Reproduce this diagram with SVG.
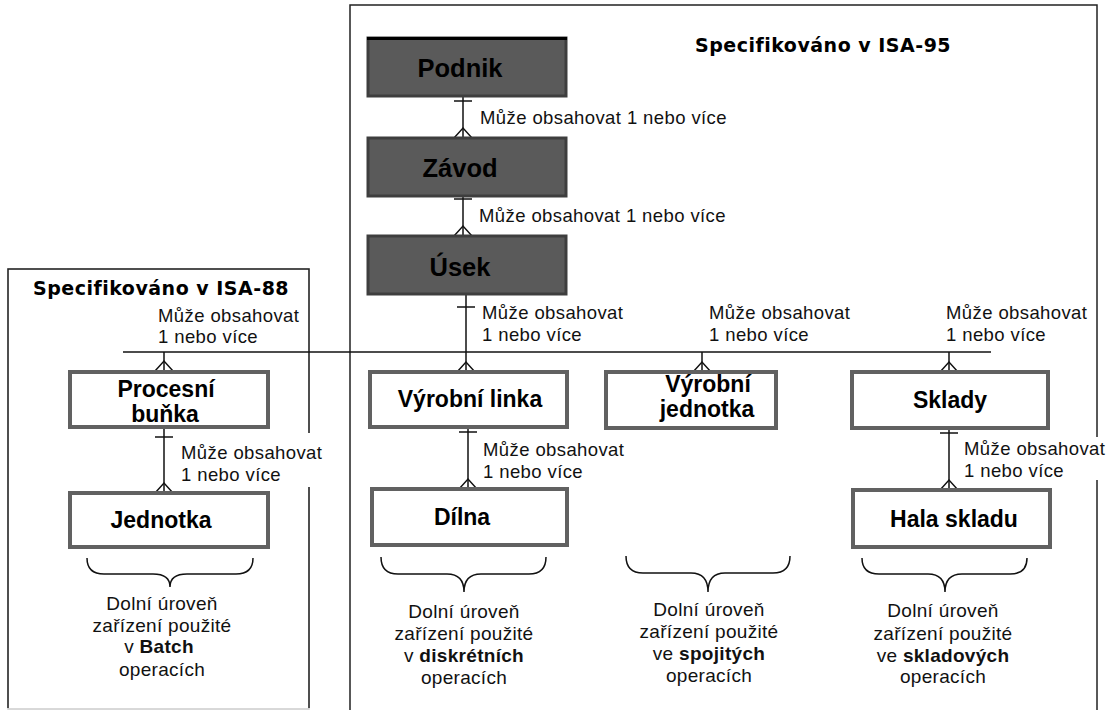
<svg xmlns="http://www.w3.org/2000/svg" xmlns:xlink="http://www.w3.org/1999/xlink" width="1114" height="710" viewBox="0 0 1114 710">
<style>
.frame{fill:none;stroke:#222;stroke-width:1.5}
.dark{fill:#5a5a5a;stroke:#3e3e3e;stroke-width:3}
.light{fill:#fff;stroke:#616161;stroke-width:4}
.name{font-family:"Liberation Sans",Arial,sans-serif;font-weight:bold;font-size:23px;fill:#000;text-anchor:middle}
.big{font-size:25.5px}
.title{font-family:"DejaVu Sans",Verdana,sans-serif;font-weight:bold;font-size:19px;letter-spacing:0.5px;fill:#000}
.lbl{font-family:"Liberation Sans",Arial,sans-serif;font-size:18.5px;letter-spacing:0.4px;fill:#111}
.note{font-family:"Liberation Sans",Arial,sans-serif;font-size:19px;letter-spacing:0.3px;fill:#111;text-anchor:middle}
.line{fill:none;stroke:#111;stroke-width:1.5}
.brace{fill:none;stroke:#111;stroke-width:1.5}
.bg{fill:#fff}
</style>
<defs>
<path id="crow" d="M-9 0 L0 -10 L9 0" class="line"/>
<path id="bar" d="M-9 0 H9" class="line"/>
</defs>
<rect width="1114" height="710" fill="#fff"/>
<g id="frames">
<rect class="frame" x="350" y="5" width="747" height="720"/>
<rect x="8" y="269" width="301" height="440" fill="none" stroke="#ccc" stroke-width="1.5"/>
<path class="frame" d="M8 708 V269 H309 V708"/>
<text class="title" x="695" y="52">Specifikováno v ISA-95</text>
<text class="title" x="33" y="295">Specifikováno v ISA-88</text>
</g>
<g id="label-backgrounds">
<rect class="bg" x="177" y="433" width="152" height="54"/>
<rect class="bg" x="960" y="437" width="150" height="43"/>
</g>
<g id="connectors">
<path class="line" d="M463 96 V138"/>
<use xlink:href="#bar" x="463" y="101"/>
<use xlink:href="#crow" x="463" y="138"/>
<path class="line" d="M463 196 V236"/>
<use xlink:href="#bar" x="463" y="199"/>
<use xlink:href="#crow" x="463" y="236"/>
<path class="line" d="M123 352 H991"/>
<path class="line" d="M466 294 V372"/>
<use xlink:href="#bar" x="466" y="307"/>
<use xlink:href="#crow" x="466" y="372"/>
<path class="line" d="M164 352 V371"/>
<use xlink:href="#crow" x="164" y="371"/>
<path class="line" d="M702 352 V372"/>
<use xlink:href="#crow" x="702" y="372"/>
<path class="line" d="M949 352 V372"/>
<use xlink:href="#crow" x="949" y="372"/>
<path class="line" d="M164 427 V493"/>
<use xlink:href="#bar" x="164" y="437"/>
<use xlink:href="#crow" x="164" y="493"/>
<path class="line" d="M468 427 V489"/>
<use xlink:href="#bar" x="468" y="432"/>
<use xlink:href="#crow" x="468" y="489"/>
<path class="line" d="M949 428 V490"/>
<use xlink:href="#bar" x="949" y="433"/>
<use xlink:href="#crow" x="949" y="490"/>
<text class="lbl" x="480" y="124">Může obsahovat 1 nebo více</text>
<text class="lbl" x="479" y="222">Může obsahovat 1 nebo více</text>
<text class="lbl"><tspan x="158" y="322">Může obsahovat</tspan><tspan x="158" y="343">1 nebo více</tspan></text>
<text class="lbl"><tspan x="482" y="319">Může obsahovat</tspan><tspan x="482" y="341">1 nebo více</tspan></text>
<text class="lbl"><tspan x="709" y="319">Může obsahovat</tspan><tspan x="709" y="341">1 nebo více</tspan></text>
<text class="lbl"><tspan x="946" y="319">Může obsahovat</tspan><tspan x="946" y="341">1 nebo více</tspan></text>
<text class="lbl"><tspan x="181" y="459">Může obsahovat</tspan><tspan x="181" y="481">1 nebo více</tspan></text>
<text class="lbl"><tspan x="483" y="456">Může obsahovat</tspan><tspan x="483" y="478">1 nebo více</tspan></text>
<text class="lbl"><tspan x="964" y="455">Může obsahovat</tspan><tspan x="964" y="477">1 nebo více</tspan></text>
</g>
<g id="podnik">
<rect class="dark" x="368" y="38" width="198" height="58"/>
<path d="M367 38.5 H567" stroke="#000" stroke-width="3"/>
<text class="name big" x="460" y="77">Podnik</text>
</g>
<g id="zavod">
<rect class="dark" x="368" y="138" width="198" height="58"/>
<text class="name big" x="460" y="177">Závod</text>
</g>
<g id="usek">
<rect class="dark" x="368" y="236" width="198" height="58"/>
<text class="name big" x="460" y="276">Úsek</text>
</g>
<g id="procesni-bunka">
<rect class="light" x="70" y="372" width="198" height="55"/>
<text class="name"><tspan x="166" y="397">Procesní</tspan><tspan x="165" y="422">buňka</tspan></text>
</g>
<g id="vyrobni-linka">
<rect class="light" x="370" y="372" width="197" height="55"/>
<text class="name" x="470" y="407">Výrobní linka</text>
</g>
<g id="vyrobni-jednotka">
<rect class="light" x="606" y="372" width="170" height="56"/>
<text class="name"><tspan x="708" y="392">Výrobní</tspan><tspan x="707" y="417">jednotka</tspan></text>
</g>
<g id="sklady">
<rect class="light" x="852" y="372" width="196" height="56"/>
<text class="name" x="950" y="408">Sklady</text>
</g>
<g id="jednotka">
<rect class="light" x="70" y="493" width="198" height="54"/>
<text class="name" x="161" y="528">Jednotka</text>
</g>
<g id="dilna">
<rect class="light" x="372" y="489" width="195" height="56"/>
<text class="name" x="462" y="525">Dílna</text>
</g>
<g id="hala-skladu">
<rect class="light" x="853" y="490" width="197" height="57"/>
<text class="name" x="954" y="527">Hala skladu</text>
</g>
<g id="batch-note">
<path class="brace" d="M87 558 Q87 574 104 574 L153 574 Q170 574 170 587 Q170 574 187 574 L236 574 Q253 574 253 558"/>
<text class="note"><tspan x="162" y="610">Dolní úroveň</tspan><tspan x="162" y="632">zařízení použité</tspan><tspan x="159" y="653">v <tspan font-weight="bold">Batch</tspan></tspan><tspan x="162" y="676">operacích</tspan></text>
</g>
<g id="discrete-note">
<path class="brace" d="M381 557 Q381 574 398 574 L447 574 Q464 574 464 592 Q464 574 481 574 L529 574 Q546 574 546 557"/>
<text class="note"><tspan x="464" y="618">Dolní úroveň</tspan><tspan x="464" y="640">zařízení použité</tspan><tspan x="464" y="662">v <tspan font-weight="bold">diskrétních</tspan></tspan><tspan x="464" y="684">operacích</tspan></text>
</g>
<g id="continuous-note">
<path class="brace" d="M626 556 Q626 573 643 573 L691 573 Q708 573 708 592 Q708 573 725 573 L773 573 Q790 573 790 556"/>
<text class="note"><tspan x="709" y="616">Dolní úroveň</tspan><tspan x="709" y="638">zařízení použité</tspan><tspan x="709" y="660">ve <tspan font-weight="bold">spojitých</tspan></tspan><tspan x="709" y="682">operacích</tspan></text>
</g>
<g id="storage-note">
<path class="brace" d="M862 558 Q862 574 879 574 L928 574 Q945 574 945 592 Q945 574 962 574 L1010 574 Q1027 574 1027 558"/>
<text class="note"><tspan x="943" y="617">Dolní úroveň</tspan><tspan x="943" y="640">zařízení použité</tspan><tspan x="943" y="662">ve <tspan font-weight="bold">skladových</tspan></tspan><tspan x="943" y="683">operacích</tspan></text>
</g>
</svg>
